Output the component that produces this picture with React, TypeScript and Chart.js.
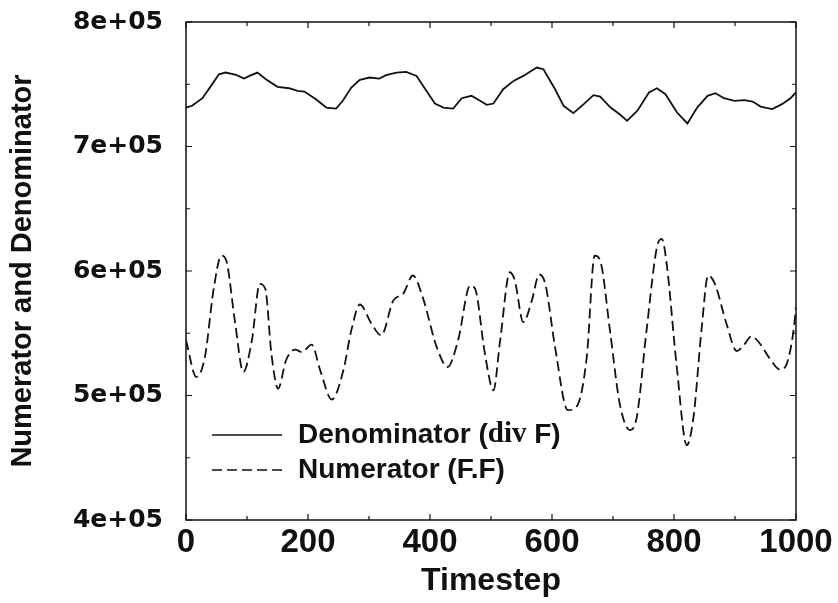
import { useEffect, useRef } from "react";
import { Chart, registerables } from "chart.js";

Chart.register(...registerables);

// ---- data ----
const denomSteps = [0, 10, 27, 41, 54, 65, 82, 95, 104, 117, 131, 150, 169, 183, 194, 213, 230, 246, 257, 271, 285, 301, 317, 328, 345, 361, 378, 394, 408, 422, 438, 452, 468, 482, 493, 504, 520, 537, 553, 575, 586, 605, 619, 635, 652, 668, 679, 696, 712, 723, 740, 759, 772, 786, 805, 822, 838, 855, 868, 882, 899, 915, 929, 942, 961, 977, 991, 1000];
const denomValues = [731300, 732700, 738800, 748700, 758000, 759400, 757500, 754600, 756700, 759400, 754000, 747900, 746800, 744700, 744100, 738000, 731300, 730500, 736700, 747400, 753500, 755400, 754600, 757300, 759400, 759900, 756700, 744700, 734500, 731300, 730500, 738800, 740700, 736700, 733500, 734500, 746000, 752700, 756700, 763400, 762100, 746000, 732700, 726800, 734000, 741200, 740100, 731300, 725500, 720600, 728700, 743400, 746800, 742000, 727300, 718500, 731300, 740700, 742800, 738800, 736700, 737200, 736100, 732100, 730000, 734000, 738800, 743400];

const numerSteps = [0, 17, 31, 45, 58, 66, 80, 94, 108, 121, 130, 140, 151, 164, 179, 190, 206, 220, 239, 258, 271, 285, 304, 320, 340, 356, 372, 388, 411, 429, 446, 466, 474, 490, 504, 515, 531, 539, 553, 567, 579, 589, 605, 626, 640, 657, 670, 679, 695, 711, 728, 739, 755, 772, 780, 788, 804, 821, 832, 845, 856, 867, 886, 903, 914, 927, 941, 957, 974, 985, 996, 1000];
const numerValues = [544300, 514900, 530900, 584400, 612400, 608400, 560300, 518900, 544300, 589700, 585700, 533600, 505600, 528300, 536800, 534900, 540800, 520200, 496800, 520200, 552300, 573100, 557700, 548300, 576400, 581700, 596400, 579000, 538900, 522900, 544300, 588400, 585700, 533600, 504200, 544300, 599000, 592400, 558900, 576400, 597200, 589700, 538900, 488200, 490800, 530900, 612400, 608400, 552300, 493500, 472200, 482800, 552300, 619100, 625800, 605700, 525600, 460100, 482800, 552300, 596400, 589700, 557700, 535700, 540300, 547500, 541600, 529600, 520800, 525600, 552300, 571000];

const xMin = 0;
const xMax = 1000;
const xStep = 200;
const xMinorStep = 100;
const yMin = 400000;
const yMax = 800000;
const yStep = 100000;
const yMinorStep = 50000;

const xTitle = "Timestep";
const yTitle = "Numerator and Denominator";
const denomLabel = "Denominator";
const numerLabel = "Numerator (F.F)";

const SANS = "'Liberation Sans', Arial, Helvetica, sans-serif";
const SERIF = "'Liberation Serif', 'Times New Roman', serif";

const framePlugin = {
  id: "frameTicks",
  afterDraw(chart: any) {
    const { ctx, chartArea } = chart;
    const { left, right, top, bottom } = chartArea;
    const xs = chart.scales.x;
    const ys = chart.scales.y;
    ctx.save();
    ctx.strokeStyle = "#111";
    ctx.lineWidth = 1.5;
    ctx.strokeRect(left, top, right - left, bottom - top);
    ctx.lineWidth = 1.2;
    ctx.beginPath();
    for (let v = xMin; v <= xMax; v += xMinorStep) {
      const px = xs.getPixelForValue(v);
      const len = v % xStep === 0 ? 6 : 4;
      ctx.moveTo(px, bottom);
      ctx.lineTo(px, bottom - len);
      ctx.moveTo(px, top);
      ctx.lineTo(px, top + len);
    }
    for (let v = yMin; v <= yMax; v += yMinorStep) {
      const py = ys.getPixelForValue(v);
      const len = v % yStep === 0 ? 6 : 4;
      ctx.moveTo(left, py);
      ctx.lineTo(left + len, py);
      ctx.moveTo(right, py);
      ctx.lineTo(right - len, py);
    }
    ctx.stroke();

    // legend
    const lx0 = left + 26;
    const lx1 = left + 96;
    const tx = left + 112;
    const y1 = 435;
    const y2 = 470;
    ctx.lineWidth = 1.6;
    ctx.beginPath();
    ctx.moveTo(lx0, y1);
    ctx.lineTo(lx1, y1);
    ctx.stroke();
    ctx.setLineDash([10, 5]);
    ctx.beginPath();
    ctx.moveTo(lx0, y2);
    ctx.lineTo(lx1, y2);
    ctx.stroke();
    ctx.setLineDash([]);

    ctx.fillStyle = "#111";
    ctx.textBaseline = "middle";
    ctx.textAlign = "left";
    const sansFont = `bold 28px ${SANS}`;
    const serifFont = `bold 29px ${SERIF}`;
    let x = tx;
    ctx.font = sansFont;
    const p1 = denomLabel + " (";
    ctx.fillText(p1, x, y1);
    x += ctx.measureText(p1).width;
    ctx.font = serifFont;
    ctx.fillText("div", x, y1);
    x += ctx.measureText("div").width;
    ctx.font = sansFont;
    ctx.fillText(" F)", x, y1);

    ctx.font = sansFont;
    ctx.fillText(numerLabel, tx, y2);
    ctx.restore();
  },
};

export default function App() {
  const canvasRef = useRef<HTMLCanvasElement | null>(null);

  useEffect(() => {
    const canvas = canvasRef.current;
    if (!canvas) return;
    const chart = new Chart(canvas, {
      type: "line",
      data: {
        datasets: [
          {
            label: "Denominator (div F)",
            data: denomSteps.map((s, i) => ({ x: s, y: denomValues[i] })),
            borderColor: "#111",
            borderWidth: 1.8,
            pointRadius: 0,
            tension: 0,
            fill: false,
          },
          {
            label: numerLabel,
            data: numerSteps.map((s, i) => ({ x: s, y: numerValues[i] })),
            borderColor: "#111",
            borderWidth: 1.8,
            borderDash: [10, 5],
            pointRadius: 0,
            cubicInterpolationMode: "monotone",
            fill: false,
          },
        ],
      },
      options: {
        responsive: false,
        animation: false,
        devicePixelRatio: 1,
        layout: { padding: { left: 0, right: 42, top: 22, bottom: 0 } },
        plugins: {
          legend: { display: false },
          tooltip: { enabled: false },
        },
        scales: {
          x: {
            type: "linear",
            min: xMin,
            max: xMax,
            grid: { display: false, drawTicks: false },
            border: { display: false },
            ticks: {
              stepSize: xStep,
              color: "#111",
              padding: 3,
              maxRotation: 0,
              font: { family: SANS, weight: "bold", size: 33 },
              callback: (v: any) => String(Math.round(Number(v))),
            },
            title: {
              display: true,
              text: xTitle,
              color: "#111",
              padding: { top: 0, bottom: 3 },
              font: { family: SANS, weight: "bold", size: 32 },
            },
            afterFit(scale: any) {
              scale.height = 83;
              scale.paddingLeft = 0;
              scale.paddingRight = 0;
            },
          },
          y: {
            type: "linear",
            min: yMin,
            max: yMax,
            grid: { display: false, drawTicks: false },
            border: { display: false },
            ticks: {
              stepSize: yStep,
              color: "#111",
              padding: 23,
              font: { family: "'DejaVu Sans', sans-serif", weight: "bold", size: 25 },
              callback: (v: any) => `${Math.round(Number(v) / 100000)}e+05`,
            },
            title: {
              display: true,
              text: yTitle,
              color: "#111",
              padding: { top: 6, bottom: 0 },
              font: { family: SANS, weight: "bold", size: 29 },
            },
            afterFit(scale: any) {
              scale.width = 186;
              scale.paddingTop = 0;
              scale.paddingBottom = 0;
            },
          },
        },
      },
      plugins: [framePlugin],
    } as any);
    return () => chart.destroy();
  }, []);

  return (
    <div style={{ position: "fixed", left: 0, top: 0, width: 838, height: 603, background: "#fff" }}>
      <canvas ref={canvasRef} width={838} height={603} style={{ display: "block", width: 838, height: 603 }} />
    </div>
  );
}
